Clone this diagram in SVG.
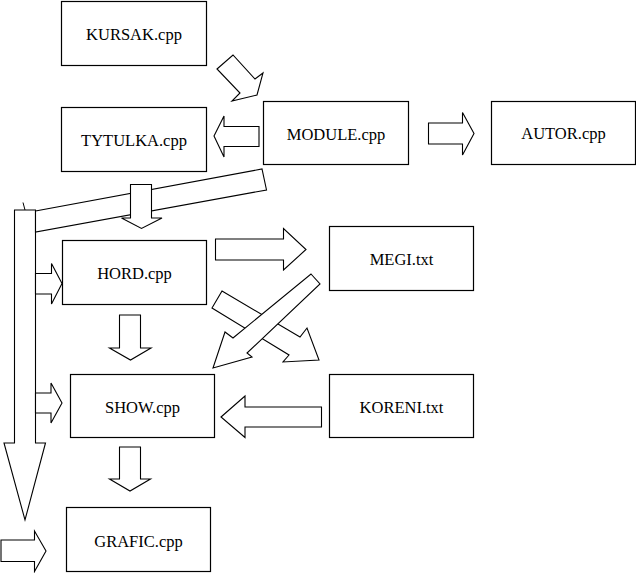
<svg xmlns="http://www.w3.org/2000/svg" width="636" height="573" viewBox="0 0 636 573">
<style>
.box{fill:#fff;stroke:#000;stroke-width:1.2}
.arr{fill:#fff;stroke:#000;stroke-width:1.1;stroke-linejoin:miter}
.lbl{font-family:"Liberation Serif","DejaVu Serif",serif;font-size:16.5px;fill:#000;text-anchor:middle}
</style>
<rect width="636" height="573" fill="#fff"/>
<g id="connectors">
<polygon class="arr" points="217,69 233,55 255,79 263,73 257,95 232,101 240,93"/>
<polygon class="arr" points="214,136 224,116 224,126.5 259,126.5 259,146.5 224,146.5 224,157"/>
<polygon class="arr" points="428.5,123 462.5,123 462.5,112.5 474,133.5 462.5,155 462.5,144 428.5,144"/>
<polygon class="arr" points="14.5,210 35.5,210 35.5,443 45.5,443 25,520 4,443 14.5,443"/>
<line x1="23" y1="202.5" x2="25" y2="210" stroke="#000" stroke-width="1"/>
<polygon class="arr" points="35.5,211 262,169 266.5,190 35.5,232"/>
<polygon class="arr" points="130.5,184.5 151.5,184.5 151.5,218 162,218 141.5,228.5 121.5,218 130.5,218"/>
<polygon class="arr" points="35.5,273.5 51.5,273.5 51.5,263.5 62,283.5 51.5,304 51.5,294 35.5,294"/>
<polygon class="arr" points="35.5,393 51,393 51,383 62,403 51,423 51,413 35.5,413"/>
<polygon class="arr" points="119.5,315 140.5,315 140.5,348 151,348 130.5,360 109.5,348 119.5,348"/>
<polygon class="arr" points="119.5,447 140.5,447 140.5,479 150.5,479 130,491 109.5,479 119.5,479"/>
<polygon class="arr" points="1,540 34.5,540 34.5,531 46,551 34.5,571.5 34.5,561.5 1,561.5"/>
<polygon class="arr" points="215.5,239 283.5,239 283.5,228.5 306,249.5 283.5,270 283.5,260 215.5,260"/>
<polygon class="arr" points="222,291 300,337 307,328 319,360 283,362 289,355 212,308"/>
<polygon class="arr" points="311,274 320,284 247,353 252,357 213,368 225,332 233,338"/>
<polygon class="arr" points="221,417 245,396 245,407 321.5,407 321.5,427 245,427 245,437.5"/>
</g>
<g id="KURSAK"><rect class="box" x="61.5" y="1.5" width="145" height="64"/><text class="lbl" x="134" y="40">KURSAK.cpp</text></g>
<g id="TYTULKA"><rect class="box" x="61.5" y="107.5" width="145" height="64"/><text class="lbl" x="134" y="146">TYTULKA.cpp</text></g>
<g id="MODULE"><rect class="box" x="263.5" y="101.5" width="145" height="63"/><text class="lbl" x="336" y="140">MODULE.cpp</text></g>
<g id="AUTOR"><rect class="box" x="491.5" y="101.5" width="144" height="63"/><text class="lbl" x="563.5" y="139">AUTOR.cpp</text></g>
<g id="HORD"><rect class="box" x="62.5" y="240.5" width="144" height="64"/><text class="lbl" x="134.5" y="279">HORD.cpp</text></g>
<g id="MEGI"><rect class="box" x="329.5" y="226.5" width="144" height="64"/><text class="lbl" x="401.5" y="265">MEGI.txt</text></g>
<g id="SHOW"><rect class="box" x="70.5" y="374.5" width="144" height="63"/><text class="lbl" x="142.5" y="413">SHOW.cpp</text></g>
<g id="KORENI"><rect class="box" x="329.5" y="374.5" width="144" height="63"/><text class="lbl" x="401.5" y="413">KORENI.txt</text></g>
<g id="GRAFIC"><rect class="box" x="66.5" y="507.5" width="144" height="64"/><text class="lbl" x="138.5" y="546.5">GRAFIC.cpp</text></g>
</svg>
